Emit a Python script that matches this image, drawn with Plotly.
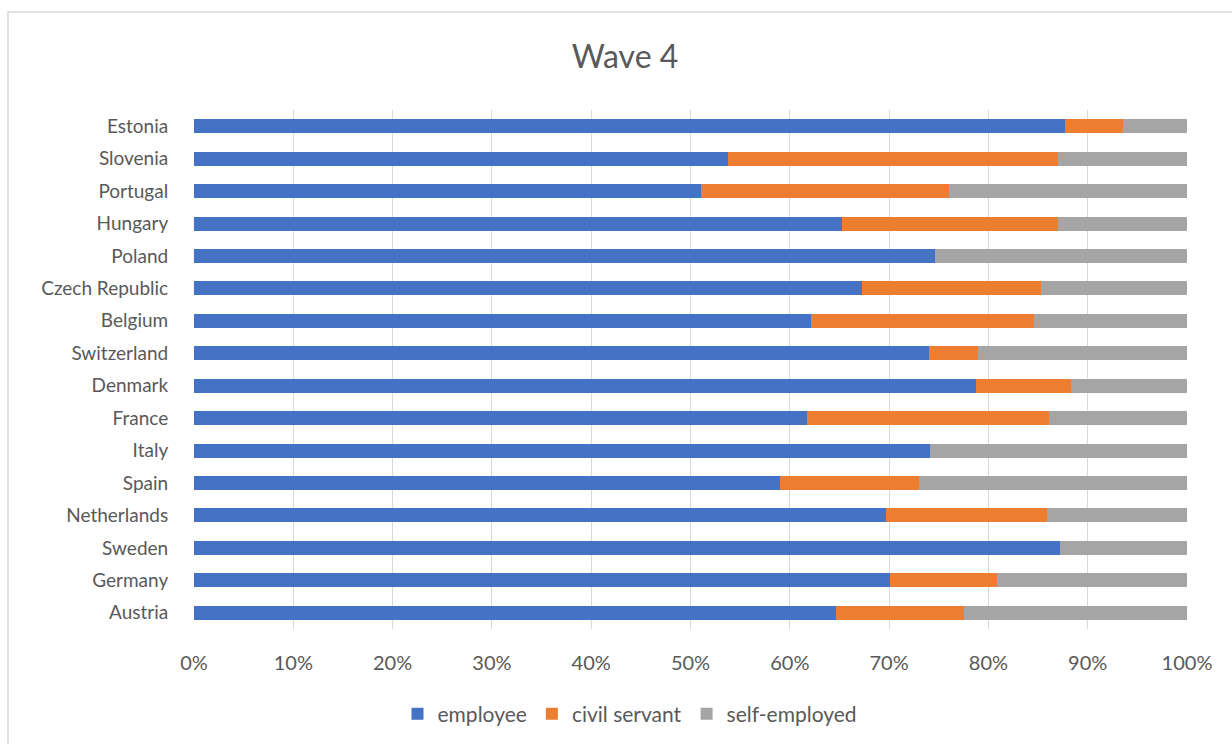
import plotly.graph_objects as go

# Countries listed bottom-to-top as drawn on the category axis
countries = ["Austria", "Germany", "Sweden", "Netherlands", "Spain", "Italy",
             "France", "Denmark", "Switzerland", "Belgium", "Czech Republic",
             "Poland", "Hungary", "Portugal", "Slovenia", "Estonia"]

# Shares of each employment status (%)
employee = [64.7, 70.1, 87.2, 69.7, 59.0, 74.1, 61.7, 78.8, 74.0, 62.1,
            67.3, 74.6, 65.3, 51.1, 53.8, 87.7]
civil_servant = [12.8, 10.8, 0.0, 16.2, 14.0, 0.0, 24.4, 9.5, 5.0, 22.5,
                 18.0, 0.0, 21.7, 24.9, 33.2, 5.9]
self_employed = [22.5, 19.1, 12.8, 14.1, 27.0, 25.9, 13.9, 11.7, 21.0, 15.4,
                 14.7, 25.4, 13.0, 24.0, 13.0, 6.4]

x_ticks = list(range(0, 101, 10))
x_tick_labels = [f"{v}%" for v in x_ticks]

series = [
    ("employee", employee, "#4472C4"),
    ("civil servant", civil_servant, "#ED7D31"),
    ("self-employed", self_employed, "#A5A5A5"),
]

FONT = "Lato, 'Open Sans', sans-serif"
TEXT = "#595959"
GRID = "#D9D9D9"

fig = go.Figure()
for name, vals, color in series:
    fig.add_trace(go.Bar(
        y=countries, x=vals, name=name, orientation="h",
        marker=dict(color=color, line=dict(width=0)),
    ))

W, H = 1232, 744
L, R, T, B = 194, 45, 110, 114.5
pw, ph = W - L - R, H - T - B

fig.update_layout(
    width=W, height=H,
    barmode="stack", bargap=0.57,
    paper_bgcolor="white", plot_bgcolor="white",
    margin=dict(l=L, r=R, t=T, b=B),
    font=dict(family=FONT, color=TEXT, size=20),
    title=dict(text="Wave 4", x=625 / W, xref="container", xanchor="center",
               y=1 - 57 / H, yanchor="middle",
               font=dict(size=32, color=TEXT, family=FONT)),
    xaxis=dict(range=[0, 100], tickvals=x_ticks, ticktext=x_tick_labels,
               showgrid=True, gridcolor=GRID, gridwidth=1.3,
               zeroline=False, showline=False,
               ticks="outside", ticklen=16, tickcolor="rgba(0,0,0,0)",
               tickfont=dict(size=20, color=TEXT), fixedrange=True),
    yaxis=dict(categoryorder="array", categoryarray=countries,
               showgrid=False, zeroline=False, showline=False,
               ticks="outside", ticklen=21, tickcolor="rgba(0,0,0,0)",
               tickfont=dict(size=19, color=TEXT), fixedrange=True),
    legend=dict(orientation="h", xref="container", x=630 / W, xanchor="center",
                yref="container", y=1 - 714 / H, yanchor="middle",
                font=dict(size=21, color=TEXT), traceorder="normal",
                itemwidth=30),
    showlegend=True,
)

# chart-area border (left and top edges are visible, the rest runs off the page)
fig.add_shape(type="rect", xref="paper", yref="paper",
              x0=(8 - L) / pw, x1=(W + 10 - L) / pw,
              y0=(T + ph - H - 10) / ph, y1=(T + ph - 12) / ph,
              line=dict(color=GRID, width=1.5), fillcolor="rgba(0,0,0,0)",
              layer="below")

fig.write_html("out.html")
